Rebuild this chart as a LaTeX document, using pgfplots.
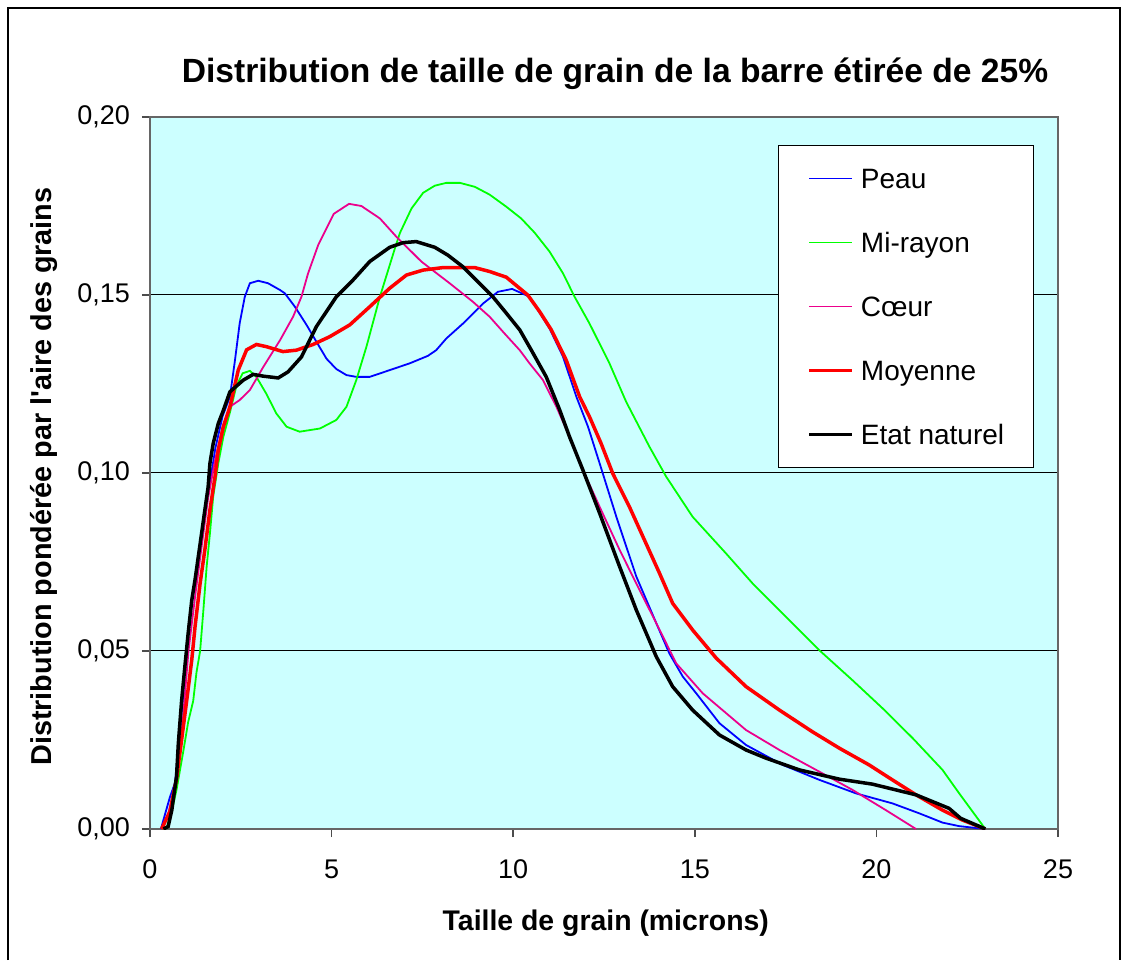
\documentclass[border=0pt]{standalone}
\usepackage{pgfplots}
\pgfplotsset{compat=1.18}
\usepackage{fontspec}
\setmainfont{Liberation Sans}
\definecolor{plotbg}{RGB}{204,255,255}
\begin{document}
\begin{tikzpicture}
\path (0pt,0pt) rectangle (561.5pt,480pt);
\draw[black, line width=0.75pt] (4pt,0pt) -- (4pt,476pt) -- (560pt,476pt) -- (560pt,0pt);
\begin{axis}[
  at={(75pt,65.5pt)}, anchor=south west,
  scale only axis, width=454pt, height=356pt,
  xmin=0, xmax=25, ymin=0, ymax=0.2,
  xtick={0,5,10,15,20,25},
  ytick={0,0.05,0.1,0.15,0.2},
  scaled y ticks=false,
  minor tick num=0,
  xtick pos=bottom, ytick pos=left,
  tick align=outside, major tick length=4pt,
  tick style={gray!60!black, line width=0.75pt},
  axis line style={draw=gray!80!black, line width=1pt},
  axis background/.style={fill=plotbg},
  ymajorgrids, major grid style={black, line width=0.5pt},
  tick label style={font=\fontsize{13.5}{16}\selectfont, /pgf/number format/assume math mode=true},
  yticklabel style={/pgf/number format/.cd, fixed, fixed zerofill, precision=2, use comma, assume math mode=true, /tikz/.cd, xshift=-2.5pt},
  xticklabel style={yshift=-8pt},
  title={Distribution de taille de grain de la barre étirée de 25\%},
  title style={at={(axis description cs:0.5121,1.031)}, anchor=base, yshift=0pt, font=\fontsize{16.8}{19}\selectfont\bfseries},
  xlabel={Taille de grain (microns)},
  xlabel style={at={(axis description cs:0.502,-0.1419)}, anchor=base, font=\fontsize{14.2}{17}\selectfont\bfseries},
  ylabel={Distribution pondérée par l\textquotesingle aire des grains},
  ylabel style={at={(axis description cs:-0.1083,0.495)}, anchor=base, font=\fontsize{14.4}{17}\selectfont\bfseries},
  legend image code/.code={\draw[#1] (0pt,0pt) -- (21.5pt,0pt); \path (25pt,0pt);},
  legend cell align=left,
  legend style={at={(axis description cs:0.6916,0.9607)}, anchor=north west,
    draw=black, line width=0.5pt, fill=white,
    font=\fontsize{14}{17}\selectfont,
    inner xsep=14.5pt, inner ysep=10pt, row sep=19pt,
    nodes={inner sep=0pt, text height=11.5pt, text depth=1.5pt}},
]
\addplot[blue, line width=0.9pt] coordinates {
(0.30,0) (0.41,0.004) (0.55,0.009) (0.69,0.013) (0.80,0.024) (0.90,0.036)
(1.00,0.050) (1.10,0.059) (1.20,0.067) (1.40,0.081) (1.60,0.094) (1.80,0.107)
(2.00,0.116) (2.20,0.1214) (2.34,0.1317) (2.47,0.1421) (2.61,0.1495) (2.75,0.1533)
(2.98,0.154) (3.25,0.1533) (3.58,0.1514) (3.71,0.1505) (3.99,0.1467) (4.31,0.1416)
(4.58,0.1369) (4.86,0.1321) (5.13,0.1292) (5.41,0.1275) (5.68,0.127) (6.05,0.127)
(6.6,0.1289) (7.15,0.1308) (7.65,0.1329) (7.88,0.1345) (8.16,0.1378) (8.62,0.142)
(9.17,0.1476) (9.58,0.1509) (9.97,0.1517) (10.45,0.1495) (11.0,0.1406) (11.37,0.1327)
(11.74,0.1214) (12.06,0.113) (12.38,0.1027) (12.84,0.0877) (13.39,0.0709) (13.94,0.0578)
(14.3,0.0493) (14.67,0.0428) (15.04,0.0381) (15.68,0.0297) (16.41,0.0236) (17.42,0.018)
(18.43,0.0138) (19.44,0.010) (20.44,0.0072) (21.18,0.0044) (21.82,0.0018) (22.28,0.0008) (23.0,0)
};
\addlegendentry{Peau}
\addplot[green, line width=0.9pt] coordinates {
(0.45,0) (0.60,0.005) (0.73,0.011) (0.92,0.022) (1.05,0.030) (1.19,0.036) (1.28,0.044)
(1.38,0.050) (1.47,0.0615) (1.56,0.0737) (1.65,0.083) (1.74,0.0934) (1.88,0.1027)
(2.02,0.1102) (2.2,0.117) (2.38,0.1245) (2.55,0.1280) (2.75,0.1287) (2.93,0.127)
(3.2,0.1223) (3.48,0.1167) (3.76,0.113) (4.12,0.1116) (4.68,0.1125) (5.13,0.1149)
(5.41,0.1186) (5.68,0.1261) (5.96,0.1355) (6.33,0.1495) (6.74,0.1630) (6.88,0.1674)
(7.2,0.1743) (7.52,0.1787) (7.84,0.1807) (8.16,0.1815) (8.53,0.1815) (8.94,0.1804)
(9.35,0.1782) (9.81,0.1748) (10.22,0.1715) (10.59,0.1675) (11.0,0.1622) (11.37,0.1561)
(11.69,0.1495) (12.1,0.142) (12.65,0.1308) (13.11,0.1200) (13.75,0.1074) (14.21,0.099)
(14.94,0.0877) (15.86,0.0774) (16.59,0.069) (17.51,0.0596) (18.43,0.0502) (19.34,0.0418)
(20.17,0.0339) (21.0,0.0255) (21.82,0.0166) (22.28,0.010) (23.0,0)
};
\addlegendentry{Mi-rayon}
\addplot[magenta, line width=0.9pt] coordinates {
(0.32,0) (0.50,0.004) (0.70,0.013) (0.90,0.030) (1.06,0.050) (1.25,0.066) (1.43,0.080)
(1.60,0.093) (1.80,0.104) (2.0,0.113) (2.2,0.1186) (2.47,0.1205) (2.75,0.1233)
(3.12,0.1298) (3.58,0.1373) (3.94,0.1439) (4.17,0.1495) (4.35,0.156) (4.63,0.1640)
(5.06,0.1728) (5.48,0.1756) (5.82,0.175) (6.33,0.1715) (6.78,0.1664) (7.47,0.1594)
(8.25,0.1533) (8.89,0.1481) (9.35,0.1439) (9.76,0.1392) (10.18,0.1345) (10.45,0.1308)
(10.82,0.1261) (11.19,0.1186) (11.55,0.1102) (11.92,0.1008) (12.38,0.0905) (12.93,0.0784)
(13.48,0.0671) (13.94,0.0578) (14.49,0.0465) (15.22,0.0381) (16.41,0.0278) (17.33,0.0222)
(18.34,0.0166) (19.34,0.011) (20.26,0.0053) (21.09,0)
};
\addlegendentry{Cœur}
\addplot[red, line width=1.75pt] coordinates {
(0.32,0) (0.55,0.005) (0.73,0.014) (0.87,0.025) (1.01,0.036) (1.15,0.0475) (1.24,0.0568)
(1.38,0.069) (1.51,0.0784) (1.65,0.0896) (1.79,0.099) (1.88,0.1064) (2.02,0.113)
(2.2,0.1186) (2.43,0.1289) (2.66,0.1346) (2.93,0.1361) (3.2,0.1355) (3.66,0.1341)
(4.03,0.1345) (4.49,0.1361) (4.95,0.1383) (5.5,0.1416) (6.05,0.1467) (6.6,0.1519)
(7.06,0.1556) (7.52,0.1570) (8.07,0.1577) (8.94,0.1577) (9.35,0.1566) (9.81,0.155)
(10.4,0.150) (10.73,0.1453) (11.05,0.1402) (11.46,0.1317) (11.83,0.1214) (12.1,0.1158)
(12.42,0.1083) (12.74,0.0999) (13.2,0.0905) (14.03,0.0718) (14.39,0.0634) (14.94,0.0559)
(15.59,0.048) (16.41,0.040) (17.33,0.0334) (18.24,0.0273) (18.98,0.0227) (19.8,0.018)
(20.44,0.0138) (21.09,0.0096) (21.82,0.0053) (22.37,0.0025) (23.0,0)
};
\addlegendentry{Moyenne}
\addplot[black, line width=1.75pt] coordinates {
(0.37,0) (0.50,0.0007) (0.60,0.0053) (0.73,0.0147) (0.78,0.024) (0.87,0.036) (0.96,0.0456)
(1.05,0.0549) (1.15,0.0643) (1.24,0.070) (1.33,0.0765) (1.42,0.083) (1.51,0.0896)
(1.60,0.096) (1.65,0.1027) (1.74,0.1083) (1.88,0.1139) (2.02,0.1176) (2.2,0.1228)
(2.57,0.1261) (2.84,0.1277) (3.12,0.1272) (3.53,0.1267) (3.8,0.1284) (4.17,0.1326)
(4.58,0.1411) (5.13,0.1495) (5.59,0.1542) (6.05,0.1594) (6.6,0.1634) (6.97,0.1647)
(7.33,0.165) (7.84,0.1634) (8.2,0.1612) (8.62,0.1579) (8.98,0.1542) (9.44,0.1495)
(9.81,0.1449) (10.18,0.1402) (10.5,0.1345) (10.91,0.127) (11.28,0.1177) (11.55,0.1102)
(11.92,0.1008) (12.24,0.0924) (12.38,0.0887) (12.93,0.0737) (13.39,0.0615) (13.94,0.0484)
(14.39,0.040) (14.94,0.0334) (15.68,0.0264) (16.41,0.0222) (16.96,0.0199) (17.88,0.0166)
(18.98,0.014) (19.89,0.0126) (21.09,0.0096) (22.0,0.0058) (22.32,0.003) (23.0,0)
};
\addlegendentry{Etat naturel}
\end{axis}
\end{tikzpicture}
\end{document}
